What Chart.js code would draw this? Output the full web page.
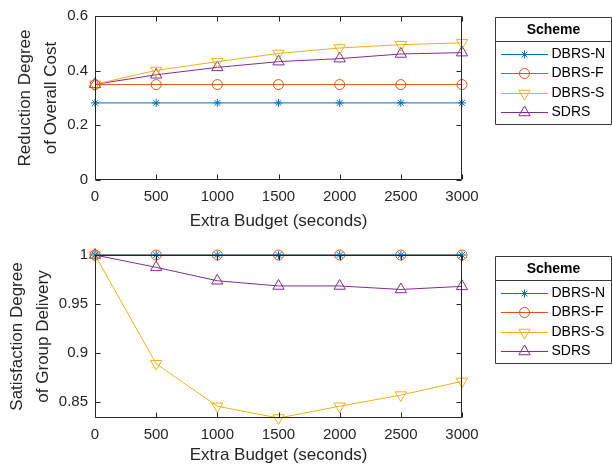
<!DOCTYPE html>
<html>
<head>
<meta charset="utf-8">
<script src="https://cdn.jsdelivr.net/npm/chart.js@4/dist/chart.umd.min.js"></script>
<style>
  html, body { margin: 0; padding: 0; background: #ffffff; }
  #wrap { position: relative; width: 612px; height: 468px; overflow: hidden; }
  canvas { position: absolute; left: 0; }
</style>
</head>
<body>
<div id="wrap">
  <canvas id="c1" width="612" height="234" style="top:0px"></canvas>
  <canvas id="c2" width="612" height="234" style="top:234px"></canvas>
</div>
<script>
// ---------------- data ----------------
const budgets = [0, 500, 1000, 1500, 2000, 2500, 3000];
const seriesNames = ['DBRS-N', 'DBRS-F', 'DBRS-S', 'SDRS'];
const legendTitle = 'Scheme';

// top chart: Reduction Degree of Overall Cost
const costDBRSN = [0.282, 0.282, 0.282, 0.282, 0.282, 0.282, 0.282];
const costDBRSF = [0.349, 0.349, 0.349, 0.349, 0.349, 0.349, 0.349];
const costDBRSS = [0.350, 0.401, 0.433, 0.463, 0.483, 0.495, 0.502];
const costSDRS  = [0.350, 0.385, 0.412, 0.433, 0.444, 0.461, 0.466];

// bottom chart: Satisfaction Degree of Group Delivery
const satDBRSN = [1, 1, 1, 1, 1, 1, 1];
const satDBRSF = [1, 1, 1, 1, 1, 1, 1];
const satDBRSS = [1, 0.889, 0.8456, 0.8336, 0.8456, 0.857, 0.871];
const satSDRS  = [1, 0.9874, 0.9737, 0.9684, 0.9684, 0.9648, 0.968];

// ticks
const xTicks = [0, 500, 1000, 1500, 2000, 2500, 3000];
const xTickLabels = ['0', '500', '1000', '1500', '2000', '2500', '3000'];
const yTicksTop = [0, 0.2, 0.4, 0.6];
const yTickLabelsTop = ['0', '0.2', '0.4', '0.6'];
const yTicksBottom = [0.85, 0.9, 0.95, 1];
const yTickLabelsBottom = ['0.85', '0.9', '0.95', '1'];
const yRangeTop = [0, 0.6];
const yRangeBottom = [0.8336, 1];

const xTitle = 'Extra Budget (seconds)';
const yTitleTop = ['Reduction Degree', 'of Overall Cost'];
const yTitleBottom = ['Satisfaction Degree', 'of Group Delivery'];

// ---------------- styles ----------------
const FONT = "'Liberation Sans', Arial, Helvetica, sans-serif";
const AXIS = '#262626';
const colors = ['#0072BD', '#D95319', '#EDB120', '#7E2F8E'];
const styles = [
  { pointStyle: 'star', radius: 4, rotation: 0 },
  { pointStyle: 'circle', radius: 5, rotation: 0 },
  { pointStyle: 'triangle', radius: 6.5, rotation: 180 },
  { pointStyle: 'triangle', radius: 6.5, rotation: 0 }
];

function makeDatasets(arrays) {
  return arrays.map((arr, i) => ({
    label: seriesNames[i],
    data: budgets.map((b, j) => ({ x: b, y: arr[j] })),
    borderColor: colors[i],
    backgroundColor: 'rgba(0,0,0,0)',
    borderWidth: 1,
    pointStyle: styles[i].pointStyle,
    pointRadius: styles[i].radius,
    pointHoverRadius: styles[i].radius,
    pointRotation: styles[i].rotation,
    pointBorderColor: colors[i],
    pointBackgroundColor: 'rgba(0,0,0,0)',
    pointBorderWidth: 1,
    tension: 0,
    fill: false,
    clip: false
  }));
}

function fallbackDrawPoint(ctx, st, r, x, y) {
  ctx.beginPath();
  if (st.pointStyle === 'circle') {
    ctx.arc(x, y, r, 0, Math.PI * 2);
  } else if (st.pointStyle === 'triangle') {
    const rot = st.rotation * Math.PI / 180;
    for (let k = 0; k < 3; k++) {
      const a = rot + k * 2 * Math.PI / 3;
      const px = x + Math.sin(a) * r, py = y - Math.cos(a) * r;
      if (k === 0) ctx.moveTo(px, py); else ctx.lineTo(px, py);
    }
    ctx.closePath();
  } else {
    for (let k = 0; k < 4; k++) {
      const a = k * Math.PI / 4;
      ctx.moveTo(x - Math.cos(a) * r, y - Math.sin(a) * r);
      ctx.lineTo(x + Math.cos(a) * r, y + Math.sin(a) * r);
    }
  }
  ctx.stroke();
}

const boxPlugin = {
  id: 'boxAndTicks',
  afterDraw(chart) {
    const ctx = chart.ctx;
    const a = chart.chartArea;
    const L = Math.round(a.left) + 0.5, R = Math.round(a.right) - 0.5;
    const T = Math.round(a.top) + 0.5, B = Math.round(a.bottom) - 0.5;
    ctx.save();
    ctx.strokeStyle = AXIS;
    ctx.lineWidth = 1;
    ctx.beginPath();
    ctx.rect(L, T, R - L, B - T);
    ctx.stroke();
    const tl = 5;
    const xs = chart.scales.x, ys = chart.scales.y;
    ctx.beginPath();
    xs.ticks.forEach(t => {
      const px = Math.round(xs.getPixelForValue(t.value)) + 0.5;
      ctx.moveTo(px, B); ctx.lineTo(px, B - tl);
      ctx.moveTo(px, T); ctx.lineTo(px, T + tl);
    });
    ys.ticks.forEach(t => {
      const py = Math.round(ys.getPixelForValue(t.value)) + 0.5;
      ctx.moveTo(L, py); ctx.lineTo(L + tl, py);
      ctx.moveTo(R, py); ctx.lineTo(R - tl, py);
    });
    ctx.stroke();

    // legend
    const lx0 = 495.5, lx1 = 611.5;
    const ly0 = Math.round(a.top) + 1.5;
    const ly1 = ly0 + 107;
    ctx.fillStyle = '#ffffff';
    ctx.fillRect(lx0, ly0, lx1 - lx0, ly1 - ly0);
    ctx.strokeStyle = '#3a3a3a';
    ctx.beginPath();
    ctx.rect(lx0, ly0, lx1 - lx0, ly1 - ly0);
    ctx.moveTo(lx0, ly0 + 24); ctx.lineTo(lx1, ly0 + 24);
    ctx.stroke();
    ctx.fillStyle = '#000000';
    ctx.font = 'bold 14px ' + FONT;
    ctx.textAlign = 'center';
    ctx.textBaseline = 'middle';
    ctx.fillText(legendTitle, (lx0 + lx1) / 2, ly0 + 12.5);
    const rowY = [36.5, 55.5, 75, 94.5];
    chart.data.datasets.forEach((ds, i) => {
      const y = Math.round(ly0 + rowY[i]) + 0.5;
      ctx.strokeStyle = ds.borderColor;
      ctx.lineWidth = 1;
      ctx.beginPath();
      ctx.moveTo(501, y); ctx.lineTo(548, y);
      ctx.stroke();
      const st = styles[i];
      ctx.fillStyle = 'rgba(0,0,0,0)';
      if (Chart.helpers && Chart.helpers.drawPoint) {
        Chart.helpers.drawPoint(ctx, { pointStyle: st.pointStyle, rotation: st.rotation, radius: st.radius, borderWidth: 1 }, 524.5, y);
      } else {
        fallbackDrawPoint(ctx, st, st.radius, 524.5, y);
      }
      ctx.fillStyle = '#000000';
      ctx.font = '14px ' + FONT;
      ctx.textAlign = 'left';
      ctx.textBaseline = 'middle';
      ctx.fillText(ds.label, 551.5, y);
    });
    ctx.restore();
  }
};

function makeChart(id, arrays, yRange, yTicks, yLabels, yTitle, cfg) {
  return new Chart(document.getElementById(id), {
    type: 'line',
    data: { datasets: makeDatasets(arrays) },
    plugins: [boxPlugin],
    options: {
      responsive: false,
      animation: false,
      devicePixelRatio: 1,
      layout: { padding: { left: 0, right: 150, top: cfg.top, bottom: 0 } },
      plugins: { legend: { display: false }, tooltip: { enabled: false } },
      scales: {
        x: {
          type: 'linear',
          min: 0, max: 3000,
          afterBuildTicks: s => { s.ticks = xTicks.map(v => ({ value: v })); },
          afterFit: s => { s.height = cfg.xHeight; },
          grid: { display: false, drawTicks: false },
          border: { display: false },
          ticks: {
            padding: 8,
            color: AXIS,
            font: { family: FONT, size: 15 },
            maxRotation: 0,
            autoSkip: false,
            callback: (v) => { const k = xTicks.indexOf(v); return k >= 0 ? xTickLabels[k] : ''; }
          },
          title: {
            display: true, text: xTitle, color: AXIS,
            font: { family: FONT, size: 17, lineHeight: 1.2 },
            padding: { top: 0, bottom: 2 }
          }
        },
        y: {
          type: 'linear',
          min: yRange[0], max: yRange[1],
          afterBuildTicks: s => { s.ticks = yTicks.map(v => ({ value: v })); },
          afterFit: s => { s.width = 95; },
          grid: { display: false, drawTicks: false },
          border: { display: false },
          ticks: {
            padding: 7,
            color: AXIS,
            font: { family: FONT, size: 15 },
            autoSkip: false,
            callback: (v) => { const k = yTicks.indexOf(v); return k >= 0 ? yLabels[k] : ''; }
          },
          title: {
            display: true, text: yTitle, color: AXIS,
            font: { family: FONT, size: 17, lineHeight: 26 / 17 },
            padding: { top: cfg.yTitlePad, bottom: 0 }
          }
        }
      }
    }
  });
}

makeChart('c1', [costDBRSN, costDBRSF, costDBRSS, costSDRS], yRangeTop, yTicksTop, yTickLabelsTop, yTitleTop,
  { top: 14, xHeight: 54, yTitlePad: 12 });
makeChart('c2', [satDBRSN, satDBRSF, satDBRSS, satSDRS], yRangeBottom, yTicksBottom, yTickLabelsBottom, yTitleBottom,
  { top: 21, xHeight: 50, yTitlePad: 4 });
</script>
</body>
</html>
